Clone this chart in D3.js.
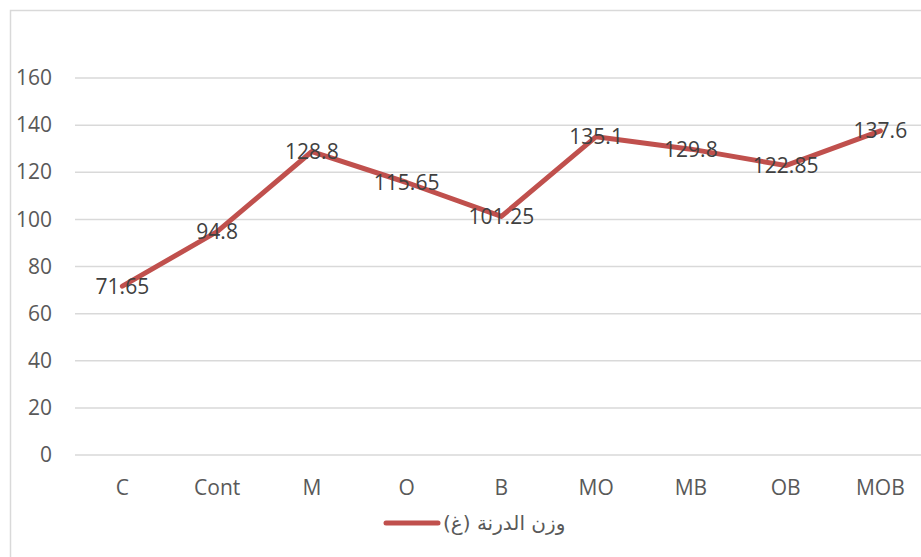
<!DOCTYPE html>
<html>
<head>
<meta charset="utf-8">
<script src="https://cdn.jsdelivr.net/npm/d3@7/dist/d3.min.js"></script>
<style>
  html, body { margin: 0; padding: 0; background: #ffffff; }
  svg { display: block; }
  text { font-family: "Open Sans", "Noto Sans", sans-serif; }
</style>
</head>
<body>
<svg id="chart" width="921" height="557"></svg>
<script>
// Treatments along the x axis
const categories = ["C", "Cont", "M", "O", "B", "MO", "MB", "OB", "MOB"];
// Tuber weight (g) per treatment
const weights = [71.65, 94.8, 128.8, 115.65, 101.25, 135.1, 129.8, 122.85, 137.6];
// Value axis ticks
const yTicks = [0, 20, 40, 60, 80, 100, 120, 140, 160];
const seriesName = "وزن الدرنة (غ)";

const svg = d3.select("#chart");
const W = 921, H = 557;

// chart frame
svg.append("rect")
  .attr("x", 10.5).attr("y", 10.5)
  .attr("width", W).attr("height", H)
  .attr("fill", "#ffffff")
  .attr("stroke", "#d9d9d9").attr("stroke-width", 1.5);

const plotLeft = 75, bandW = 94.75;
const x = d3.scaleBand()
  .domain(categories)
  .range([plotLeft, plotLeft + bandW * categories.length])
  .paddingInner(0).paddingOuter(0);
const y = d3.scaleLinear().domain([0, 160]).range([455, 78]);

// horizontal gridlines
svg.append("g")
  .selectAll("line")
  .data(yTicks)
  .join("line")
  .attr("x1", plotLeft).attr("x2", plotLeft + bandW * categories.length)
  .attr("y1", d => y(d)).attr("y2", d => y(d))
  .attr("stroke", "#d9d9d9").attr("stroke-width", 1.5);

// y axis labels
const yAxis = d3.axisLeft(y).tickValues(yTicks).tickSize(0).tickPadding(0);
const gy = svg.append("g").attr("transform", "translate(52,0)").call(yAxis);
gy.select(".domain").remove();
gy.selectAll("text")
  .attr("fill", "#595959")
  .style("font-size", "21px")
  .style("font-family", "'Open Sans', sans-serif");

// x axis labels
const xAxis = d3.axisBottom(x).tickSize(0).tickPadding(0);
const gx = svg.append("g").attr("transform", "translate(0,480)").call(xAxis);
gx.select(".domain").remove();
gx.selectAll("text")
  .attr("fill", "#595959")
  .style("font-size", "21px")
  .style("font-family", "'Open Sans', sans-serif");

// series line
const line = d3.line()
  .x((d, i) => x(categories[i]) + x.bandwidth() / 2)
  .y(d => y(d));
svg.append("path")
  .datum(weights)
  .attr("d", line)
  .attr("fill", "none")
  .attr("stroke", "#c0504d")
  .attr("stroke-width", 5)
  .attr("stroke-linejoin", "round")
  .attr("stroke-linecap", "round");

// value labels centred on each point
svg.append("g")
  .selectAll("text")
  .data(weights)
  .join("text")
  .attr("x", (d, i) => x(categories[i]) + x.bandwidth() / 2)
  .attr("y", d => y(d))
  .attr("dy", "0.35em")
  .attr("text-anchor", "middle")
  .attr("fill", "#404040")
  .style("font-size", "21px")
  .text(d => d);

// legend
const lg = svg.append("g");
lg.append("line")
  .attr("x1", 386).attr("x2", 438)
  .attr("y1", 523).attr("y2", 523)
  .attr("stroke", "#c0504d").attr("stroke-width", 5)
  .attr("stroke-linecap", "round");
lg.append("text")
  .attr("x", 443).attr("y", 523)
  .attr("dy", "0.35em")
  .attr("direction", "rtl")
  .attr("text-anchor", "end")
  .attr("fill", "#595959")
  .style("font-size", "20px")
  .style("font-family", "'DejaVu Sans', sans-serif")
  .text(seriesName);
</script>
</body>
</html>
